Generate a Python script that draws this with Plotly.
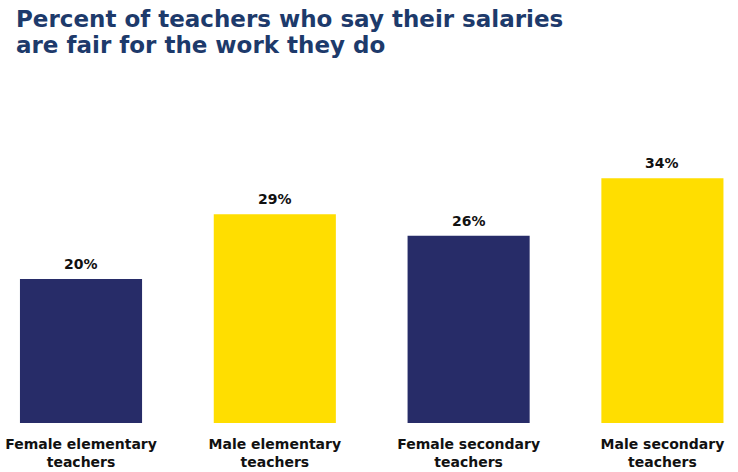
import plotly.graph_objects as go

# Survey results
categories = ["Female elementary<br>teachers", "Male elementary<br>teachers",
              "Female secondary<br>teachers", "Male secondary<br>teachers"]
values = [20, 29, 26, 34]
bar_colors = ["#272C68", "#FFDE00", "#272C68", "#FFDE00"]
title_lines = ["Percent of teachers who say their salaries", "are fair for the work they do"]

PLOT_TOP = 100
PLOT_H = 472 - PLOT_TOP - 49

fig = go.Figure(
    go.Bar(
        x=list(range(len(categories))),
        y=values,
        marker=dict(color=bar_colors, line=dict(width=0)),
        hoverinfo="skip",
    )
)

# Value labels just above each bar
for i, v in enumerate(values):
    fig.add_annotation(
        x=i, y=v, xref="x", yref="y",
        text=f"<b>{v}%</b>",
        yanchor="middle", yshift=15,
        showarrow=False,
        font=dict(family="DejaVu Sans, Arial, sans-serif", size=14, color="#111111"),
    )

# Two-line heading, placed above the plot area
for i, line in enumerate(title_lines):
    fig.add_annotation(
        text=f"<b>{line}</b>",
        xref="paper", yref="paper",
        x=14 / 738, xanchor="left",
        y=1 + (PLOT_TOP - 19 - 26 * i) / PLOT_H, yanchor="middle",
        showarrow=False,
        font=dict(family="DejaVu Sans, Arial, sans-serif", size=23, color="#1D3A6B"),
    )

fig.update_layout(
    width=738,
    height=472,
    margin=dict(l=0, r=0, t=PLOT_TOP, b=49),
    paper_bgcolor="white",
    plot_bgcolor="white",
    bargap=0.37,
    showlegend=False,
    xaxis=dict(
        range=[-0.418, 3.39],
        tickmode="array",
        tickvals=list(range(len(categories))),
        ticktext=[f"<b>{c}</b>" for c in categories],
        tickfont=dict(family="DejaVu Sans, Arial, sans-serif", size=14, color="#111111"),
        ticklabelstandoff=11,
        showgrid=False,
        zeroline=False,
        showline=False,
        ticks="",
        fixedrange=True,
    ),
    yaxis=dict(
        range=[0, 44.86],
        visible=False,
        fixedrange=True,
    ),
)

fig.write_html("out.html")
